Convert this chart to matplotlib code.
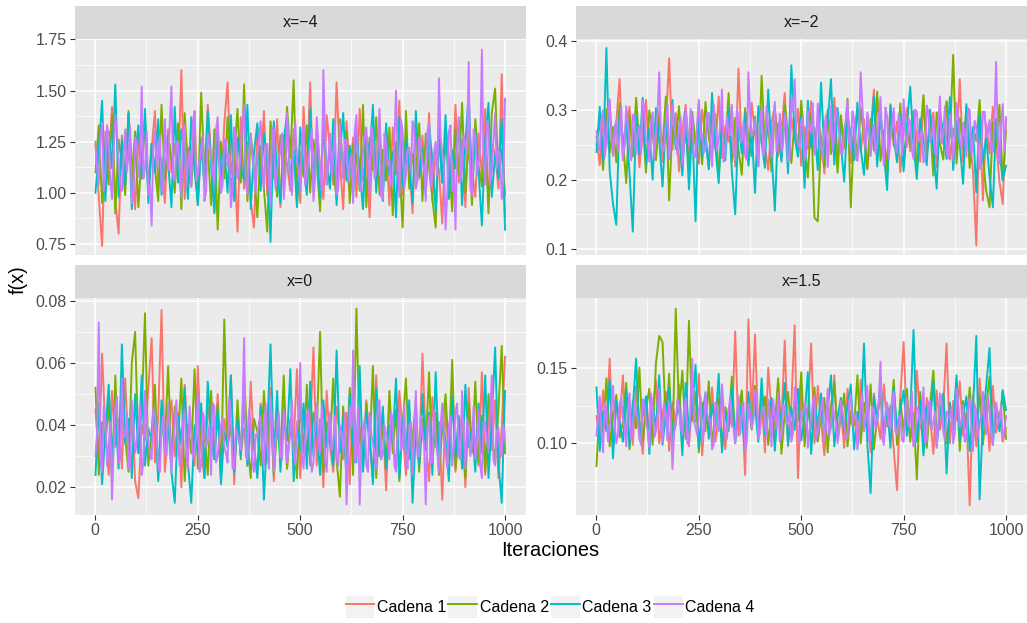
import matplotlib.pyplot as plt
import numpy as np
from matplotlib.lines import Line2D
from matplotlib.patches import Patch

plt.rcParams['font.family'] = ['Liberation Sans', 'DejaVu Sans']

panels = ["x=\u22124", "x=\u22122", "x=0", "x=1.5"]
chains = ["Cadena 1", "Cadena 2", "Cadena 3", "Cadena 4"]
colors = ["#F8766D", "#7CAE00", "#00BFC4", "#C77CFF"]

# each chain at 125 evenly spaced iterations
iters = np.linspace(1, 1000, 125)
# Cadena 4 (drawn on top) also read between those points
iters_fine = np.linspace(1, 1000, 249)

# x = -4  (units of 0.01)
xm4_c1 = [125, 98, 74, 130, 112, 142, 96, 80, 128, 104, 138, 115, 92, 126, 108, 135, 99, 121, 140, 103, 117, 95, 131, 110, 124,
          106, 160, 97, 122, 113, 139, 94, 127, 105, 143, 118, 91, 129, 100, 134, 154, 109, 120, 81, 137, 102, 125, 96, 83, 132,
          111, 140, 99, 123, 107, 136, 93, 128, 114, 101, 131, 119, 95, 142, 108, 154, 100, 133, 112, 97, 138, 121, 104, 154, 116,
          92, 135, 110, 127, 98, 141, 106, 119, 88, 130, 113, 137, 101, 124, 94, 132, 109, 145, 99, 122, 115, 90, 134, 107, 128,
          103, 139, 96, 120, 111, 85, 133, 118, 100, 143, 105, 126, 93, 137, 112, 98, 129, 108, 141, 95, 124, 119, 102, 158, 88]
xm4_c2 = [110, 133, 95, 121, 104, 138, 90, 126, 115, 99, 140, 108, 130, 93, 119, 136, 101, 124, 112, 96, 143, 106, 128, 117, 100,
          134, 92, 139, 113, 103, 127, 97, 149, 110, 122, 94, 131, 82, 125, 107, 137, 99, 118, 141, 105, 153, 96, 129, 111, 88,
          123, 102, 81, 135, 114, 98, 128, 106, 142, 117, 155, 94, 120, 108, 133, 100, 126, 115, 91, 139, 104, 122, 112, 97, 136,
          109, 130, 95, 124, 118, 101, 143, 93, 127, 111, 137, 99, 121, 106, 132, 89, 125, 114, 83, 140, 102, 119, 108, 134, 96,
          129, 112, 97, 83, 138, 105, 123, 116, 91, 131, 109, 144, 100, 126, 94, 136, 113, 103, 128, 90, 139, 151, 107, 121, 99]
xm4_c3 = [100, 121, 145, 96, 130, 112, 153, 98, 126, 104, 139, 92, 118, 133, 107, 141, 95, 124, 110, 136, 99, 128, 115, 93, 142,
          105, 131, 119, 97, 137, 111, 94, 125, 103, 140, 114, 90, 132, 108, 122, 100, 138, 96, 127, 113, 106, 143, 92, 120, 134,
          101, 129, 117, 76, 135, 109, 95, 126, 138, 104, 121, 93, 132, 112, 99, 141, 107, 124, 97, 130, 115, 102, 136, 94, 119,
          139, 106, 123, 98, 131, 111, 92, 128, 117, 143, 100, 125, 96, 134, 109, 120, 88, 137, 103, 126, 114, 95, 140, 108, 122,
          99, 133, 116, 91, 127, 105, 138, 97, 121, 112, 135, 94, 124, 149, 101, 130, 110, 84, 126, 144, 98, 119, 107, 136, 82]
xm4_c4 = [123, 104, 134, 110, 128, 97, 138, 115, 101, 131, 119, 95, 127, 108, 152, 112, 99, 84, 130, 117, 102, 136, 111, 152, 106,
          125, 98, 133, 114, 103, 140, 109, 121, 96, 129, 118, 105, 137, 100, 126, 113, 93, 132, 107, 122, 143, 99, 128, 111, 117,
          135, 102, 124, 94, 131, 110, 120, 97, 139, 106, 127, 115, 101, 133, 108, 123, 96, 137, 112, 160, 104, 129, 118, 99, 134,
          107, 126, 114, 95, 138, 103, 121, 132, 100, 128, 111, 141, 97, 124, 116, 105, 150, 98, 130, 109, 122, 135, 102, 127, 113,
          96, 134, 108, 125, 156, 119, 82, 130, 101, 82, 137, 112, 123, 164, 99, 128, 115, 170, 104, 131, 110, 139, 121, 97, 146]
xm4_c4_mid = [112, 127, 101, 133, 106, 121, 129, 103, 118, 110, 132, 99, 124, 115, 107, 130, 104, 122, 113, 128, 100, 119, 134, 108, 125,
              111, 130, 103, 120, 135, 106, 116, 128, 101, 123, 109, 131, 114, 104, 126, 119, 102, 129, 110, 133, 105, 121, 117, 100, 127,
              113, 124, 106, 132, 102, 118, 129, 108, 121, 99, 134, 112, 126, 104, 117, 131, 107, 123, 101, 128, 115, 109, 133, 103, 120,
              126, 105, 119, 130, 111, 101, 127, 116, 132, 107, 122, 98, 129, 113, 104, 125, 118, 136, 102, 121, 110, 131, 106, 124, 114,
              130, 103, 120, 108, 127, 116, 100, 133, 111, 124, 105, 128, 119, 102, 131, 109, 122, 114, 135, 104, 126, 112, 118, 107]

# x = -2  (units of 0.001)
xm2_c1 = [262, 221, 298, 247, 310, 235, 283, 345, 228, 274, 305, 240, 292, 218, 268, 315, 233, 286, 251, 300, 226, 279, 375, 243, 296,
          212, 270, 308, 238, 289, 257, 223, 301, 264, 216, 293, 246, 320, 231, 277, 255, 304, 219, 360, 242, 285, 229, 311, 266, 236,
          297, 249, 214, 282, 307, 234, 271, 325, 227, 290, 258, 302, 220, 276, 244, 313, 237, 288, 263, 209, 295, 252, 318, 230, 280,
          245, 306, 224, 273, 299, 239, 287, 215, 268, 330, 232, 294, 256, 222, 309, 248, 284, 211, 272, 303, 241, 291, 260, 226, 316,
          235, 278, 297, 218, 286, 251, 312, 229, 274, 243, 345, 225, 292, 259, 213, 105, 300, 170, 281, 238, 305, 254, 198, 165, 286]
xm2_c2 = [250, 287, 214, 302, 239, 276, 225, 311, 258, 195, 293, 233, 318, 247, 282, 210, 300, 265, 228, 290, 244, 320, 170, 279, 254,
          306, 231, 269, 215, 298, 248, 285, 222, 312, 260, 236, 294, 205, 277, 251, 325, 226, 289, 243, 207, 303, 263, 234, 291, 219,
          350, 246, 281, 212, 299, 257, 232, 308, 268, 224, 286, 240, 314, 253, 203, 295, 145, 140, 262, 219, 301, 237, 284, 210, 293,
          249, 317, 160, 275, 230, 304, 259, 216, 288, 242, 327, 227, 271, 208, 296, 255, 235, 310, 220, 282, 247, 299, 213, 266, 322,
          238, 280, 206, 297, 252, 229, 313, 261, 380, 223, 289, 244, 304, 217, 275, 256, 315, 232, 184, 160, 283, 246, 308, 199, 270]
xm2_c3 = [240, 305, 226, 390, 213, 165, 135, 297, 248, 282, 209, 125, 291, 236, 318, 222, 273, 200, 303, 257, 190, 286, 230, 315, 244,
          268, 206, 299, 186, 278, 140, 310, 234, 262, 215, 325, 247, 195, 289, 228, 302, 211, 150, 284, 238, 296, 220, 271, 181, 306,
          253, 217, 330, 242, 155, 281, 226, 298, 209, 365, 261, 233, 292, 188, 314, 246, 275, 214, 340, 237, 283, 345, 222, 303, 251,
          197, 290, 266, 228, 311, 245, 207, 286, 255, 320, 219, 296, 239, 185, 307, 263, 225, 293, 212, 279, 334, 248, 201, 288, 258,
          221, 301, 243, 187, 296, 269, 230, 319, 214, 285, 250, 194, 309, 237, 276, 182, 295, 226, 262, 204, 160, 288, 241, 199, 220]
xm2_c4 = [270, 242, 300, 256, 316, 234, 285, 262, 229, 306, 248, 293, 237, 278, 314, 253, 226, 297, 268, 355, 241, 283, 230, 309, 259,
          276, 222, 302, 250, 288, 233, 315, 265, 244, 296, 219, 281, 257, 330, 239, 270, 308, 228, 292, 254, 235, 355, 263, 287, 220,
          303, 246, 279, 232, 312, 258, 240, 295, 226, 318, 345, 251, 284, 229, 299, 267, 236, 310, 249, 275, 218, 306, 260, 290, 238,
          272, 314, 243, 286, 227, 355, 264, 297, 234, 280, 252, 319, 221, 291, 258, 303, 239, 276, 316, 247, 283, 230, 298, 261, 225,
          307, 254, 289, 236, 320, 266, 241, 294, 228, 311, 257, 282, 233, 300, 249, 274, 215, 298, 261, 286, 240, 370, 223, 309, 290]
xm2_c4_mid = [251, 287, 233, 299, 262, 276, 240, 305, 248, 281, 228, 294, 269, 237, 303, 255, 284, 231, 297, 266, 244, 309, 258, 275, 236,
              290, 247, 271, 302, 232, 285, 260, 239, 296, 252, 308, 243, 279, 226, 292, 264, 238, 301, 256, 283, 229, 298, 270, 245, 287,
              234, 306, 261, 277, 241, 295, 253, 282, 230, 300, 267, 246, 289, 235, 274, 310, 250, 263, 227, 293, 259, 242, 304, 268, 237,
              286, 254, 299, 232, 273, 307, 245, 280, 262, 238, 291, 257, 304, 230, 278, 249, 295, 236, 265, 288, 243, 301, 255, 272, 228,
              297, 264, 240, 283, 253, 306, 231, 276, 259, 292, 244, 270, 303, 236, 285, 251, 233, 298, 267, 247, 289, 258, 279, 242]

# x = 0  (units of 0.0001)
x0_c1 = [450, 290, 630, 380, 240, 510, 330, 420, 260, 550, 310, 470, 220, 165, 400, 350, 520, 680, 280, 430, 770, 250, 390, 480, 300,
         440, 200, 530, 340, 410, 270, 590, 320, 230, 460, 380, 290, 500, 250, 420, 350, 560, 210, 440, 310, 390, 270, 540, 330, 240,
         470, 360, 280, 520, 220, 430, 310, 490, 260, 400, 340, 580, 230, 450, 300, 380, 650, 270, 420, 200, 510, 330, 250, 460, 360,
         290, 440, 210, 530, 320, 390, 260, 480, 350, 230, 560, 300, 420, 190, 470, 340, 270, 510, 380, 240, 450, 310, 400, 280, 630,
         350, 220, 490, 330, 410, 160, 460, 290, 540, 250, 380, 430, 200, 520, 310, 360, 270, 570, 240, 440, 320, 480, 230, 390, 620]
x0_c2 = [520, 240, 410, 330, 480, 210, 560, 290, 430, 360, 250, 600, 700, 310, 450, 760, 270, 380, 530, 230, 420, 340, 590, 280, 460,
         350, 550, 220, 400, 310, 580, 260, 440, 370, 240, 510, 300, 470, 220, 740, 330, 400, 250, 480, 290, 560, 350, 230, 420, 380,
         270, 510, 330, 450, 240, 400, 300, 560, 260, 420, 350, 230, 480, 310, 530, 270, 440, 380, 700, 250, 410, 340, 550, 290, 170,
         460, 300, 520, 240, 775, 350, 280, 470, 320, 590, 230, 430, 370, 260, 510, 310, 450, 220, 400, 550, 290, 360, 480, 250, 420,
         330, 570, 270, 440, 240, 390, 500, 300, 610, 260, 410, 350, 230, 470, 320, 540, 280, 430, 250, 500, 360, 290, 450, 655, 310]
x0_c3 = [240, 470, 210, 380, 530, 300, 440, 260, 660, 340, 420, 230, 500, 310, 560, 270, 390, 350, 450, 220, 480, 320, 410, 250, 150,
         430, 340, 520, 280, 150, 400, 310, 470, 230, 540, 360, 290, 450, 210, 380, 330, 560, 250, 420, 300, 490, 270, 400, 340, 230,
         460, 160, 380, 660, 290, 510, 250, 430, 350, 580, 220, 400, 320, 470, 260, 540, 300, 410, 240, 480, 330, 390, 270, 640, 310,
         420, 230, 500, 340, 280, 590, 250, 440, 370, 210, 520, 300, 460, 260, 400, 350, 550, 230, 420, 310, 480, 150, 380, 270, 500,
         320, 440, 240, 570, 290, 410, 350, 220, 490, 300, 430, 260, 530, 330, 390, 250, 470, 310, 560, 230, 420, 650, 280, 150, 510]
x0_c4 = [300, 730, 250, 420, 330, 160, 460, 280, 550, 360, 260, 480, 310, 400, 240, 510, 350, 290, 440, 270, 390, 320, 470, 250, 410,
         340, 290, 450, 260, 380, 310, 500, 270, 420, 350, 240, 460, 300, 400, 330, 280, 440, 260, 370, 320, 680, 290, 410, 250, 360,
         430, 270, 340, 490, 250, 390, 300, 450, 280, 370, 320, 410, 600, 260, 430, 330, 280, 470, 310, 380, 250, 440, 350, 290, 400,
         320, 145, 460, 640, 300, 145, 390, 270, 440, 340, 260, 480, 310, 370, 290, 420, 250, 450, 330, 280, 400, 240, 510, 300, 370,
         145, 430, 280, 360, 250, 470, 320, 400, 270, 440, 300, 510, 260, 380, 340, 290, 450, 230, 410, 320, 560, 270, 390, 300, 350]
x0_c4_mid = [380, 300, 460, 270, 410, 330, 490, 290, 370, 440, 260, 400, 350, 470, 280, 420, 310, 450, 360, 250, 430, 300, 390, 340, 480,
             270, 410, 320, 460, 290, 380, 250, 440, 330, 400, 470, 280, 360, 420, 310, 490, 260, 390, 350, 430, 300, 450, 280, 370, 410,
             320, 470, 260, 400, 350, 440, 290, 380, 330, 480, 270, 420, 310, 360, 450, 250, 410, 340, 460, 290, 390, 320, 430, 270, 370,
             440, 300, 390, 280, 460, 340, 420, 250, 370, 310, 480, 290, 400, 350, 440, 270, 380, 320, 470, 260, 410, 360, 300, 430, 340,
             390, 280, 450, 310, 400, 360, 260, 430, 330, 470, 290, 380, 420, 300, 460, 340, 270, 410, 350, 440, 290, 380, 320, 400]

# x = 1.5  (units of 0.001)
x15_c1 = [118, 102, 135, 110, 156, 97, 128, 113, 145, 104, 124, 99, 138, 116, 93, 131, 108, 122, 142, 100, 119, 134, 95, 127, 112,
          139, 103, 121, 98, 130, 114, 146, 92, 125, 109, 137, 101, 118, 133, 96, 123, 111, 174, 105, 129, 79, 182, 117, 172, 107,
          131, 94, 150, 120, 102, 140, 112, 168, 98, 126, 178, 77, 134, 106, 121, 166, 100, 138, 115, 92, 129, 110, 145, 104, 123,
          97, 136, 113, 119, 101, 142, 108, 127, 94, 133, 116, 103, 139, 111, 125, 96, 69, 131, 167, 107, 122, 99, 148, 114, 102,
          130, 118, 93, 135, 109, 124, 166, 100, 128, 115, 141, 105, 120, 59, 132, 98, 143, 112, 126, 95, 138, 107, 121, 101, 110]
x15_c2 = [85, 126, 107, 143, 98, 119, 132, 104, 114, 140, 96, 128, 110, 150, 101, 123, 136, 99, 153, 171, 167, 112, 146, 97, 189,
          120, 148, 103, 181, 115, 134, 94, 127, 108, 141, 100, 118, 130, 97, 124, 113, 144, 102, 121, 135, 95, 126, 109, 138, 104,
          117, 131, 99, 125, 111, 143, 93, 120, 134, 106, 128, 115, 147, 98, 122, 110, 137, 101, 119, 130, 94, 125, 140, 105, 116,
          133, 98, 121, 112, 145, 100, 127, 108, 139, 96, 118, 131, 103, 124, 114, 142, 99, 129, 107, 136, 101, 120, 76, 134, 111,
          97, 126, 148, 105, 119, 132, 100, 123, 113, 140, 95, 128, 109, 137, 102, 118, 131, 99, 124, 144, 106, 120, 112, 135, 103]
x15_c3 = [137, 95, 121, 108, 142, 90, 128, 114, 101, 135, 98, 123, 156, 104, 118, 131, 93, 126, 110, 145, 99, 120, 137, 102, 115,
          128, 92, 140, 107, 123, 152, 97, 119, 133, 103, 126, 111, 146, 94, 121, 108, 138, 100, 129, 116, 96, 134, 112, 125, 101,
          143, 106, 120, 130, 95, 127, 113, 140, 99, 124, 109, 136, 102, 118, 147, 93, 128, 111, 133, 104, 122, 145, 98, 117, 130,
          107, 125, 139, 96, 121, 112, 166, 100, 67, 131, 115, 143, 103, 126, 97, 137, 110, 122, 135, 105, 119, 175, 101, 128, 92,
          124, 113, 141, 98, 120, 133, 80, 127, 109, 145, 102, 118, 131, 95, 123, 171, 63, 116, 138, 163, 99, 126, 108, 135, 122]
x15_c4 = [105, 131, 94, 122, 112, 138, 100, 126, 116, 98, 133, 109, 121, 103, 129, 114, 97, 125, 108, 136, 101, 119, 127, 83, 113,
          124, 106, 130, 99, 156, 111, 120, 102, 134, 115, 96, 127, 108, 139, 104, 122, 113, 100, 131, 117, 95, 126, 110, 135, 103,
          121, 112, 129, 98, 118, 133, 105, 124, 114, 101, 137, 109, 120, 126, 97, 115, 131, 107, 123, 102, 136, 111, 119, 100, 128,
          113, 104, 132, 118, 96, 125, 109, 138, 103, 121, 115, 154, 99, 127, 110, 134, 106, 119, 101, 130, 116, 98, 124, 112, 137,
          102, 128, 114, 97, 133, 108, 121, 117, 100, 136, 111, 125, 104, 130, 95, 119, 113, 134, 106, 122, 99, 127, 115, 103, 118]
x15_c4_mid = [118, 108, 127, 101, 124, 113, 106, 130, 110, 121, 103, 128, 115, 99, 125, 109, 133, 104, 119, 112, 126, 102, 117, 107, 129,
              111, 122, 100, 128, 114, 105, 131, 108, 120, 116, 99, 126, 112, 123, 103, 130, 110, 119, 106, 127, 101, 121, 115, 132, 107,
              124, 104, 117, 129, 110, 101, 126, 113, 120, 107, 131, 100, 118, 123, 109, 127, 102, 116, 130, 111, 105, 125, 114, 108, 121,
              103, 128, 112, 119, 106, 133, 115, 101, 124, 110, 127, 104, 120, 113, 129, 108, 117, 102, 125, 111, 134, 105, 122, 116, 100,
              127, 109, 121, 113, 130, 102, 118, 124, 107, 128, 114, 101, 123, 110, 126, 104, 119, 115, 131, 106, 120, 112, 125, 108]

data = [[xm4_c1, xm4_c2, xm4_c3, xm4_c4],
        [xm2_c1, xm2_c2, xm2_c3, xm2_c4],
        [x0_c1, x0_c2, x0_c3, x0_c4],
        [x15_c1, x15_c2, x15_c3, x15_c4]]
mids = [xm4_c4_mid, xm2_c4_mid, x0_c4_mid, x15_c4_mid]
units = [0.01, 0.001, 0.0001, 0.001]

ylims = [(0.696, 1.752), (0.0913, 0.4029), (0.0111, 0.0809), (0.0526, 0.1961)]
yticks = [[0.75, 1.00, 1.25, 1.50, 1.75], [0.1, 0.2, 0.3, 0.4], [0.02, 0.04, 0.06, 0.08], [0.10, 0.15]]
yminor = [[0.875, 1.125, 1.375, 1.625], [0.15, 0.25, 0.35], [0.03, 0.05, 0.07], [0.075, 0.125, 0.175]]
yfmt = ["%.2f", "%.1f", "%.2f", "%.2f"]
xticks = [0, 250, 500, 750, 1000]
xminor = [125, 375, 625, 875]

W, H = 1027, 623
fig = plt.figure(figsize=(W / 100, H / 100), dpi=100)

# panel boxes in pixels: left, top, right, bottom
boxes = [(75, 39, 525.5, 255), (576, 39, 1026.5, 255),
         (75, 298, 525.5, 515), (576, 298, 1026.5, 515)]
strip_h = 33

for p in range(4):
    l, t, r, b = boxes[p]
    ax = fig.add_axes([l / W, 1 - b / H, (r - l) / W, (b - t) / H])
    ax.set_facecolor("#EBEBEB")
    for s in ax.spines.values():
        s.set_visible(False)
    for c in range(4):
        if c == 3:
            y = np.empty(249)
            y[0::2] = data[p][c]
            y[1::2] = mids[p]
            ax.plot(iters_fine, y * units[p], color=colors[c], lw=1.4)
        else:
            y = np.array(data[p][c]) * units[p]
            ax.plot(iters, y, color=colors[c], lw=1.4)
    ax.set_xlim(-48.95, 1049.95)
    ax.set_ylim(*ylims[p])
    ax.set_xticks(xticks)
    ax.set_xticks(xminor, minor=True)
    ax.set_yticks(yticks[p])
    ax.set_yticks(yminor[p], minor=True)
    ax.set_yticklabels([yfmt[p] % v for v in yticks[p]])
    ax.grid(True, which="major", color="white", lw=1.1)
    ax.grid(True, which="minor", color="white", lw=0.55)
    ax.set_axisbelow(True)
    ax.tick_params(which="minor", length=0)
    ax.tick_params(axis="y", length=3.6, width=0.8, color="#333333",
                   labelcolor="#4D4D4D", labelsize=11.5, pad=2.5)
    if p >= 2:
        ax.tick_params(axis="x", length=3.6, width=0.8, color="#333333",
                       labelcolor="#4D4D4D", labelsize=11.5, pad=2.5)
        ax.set_xticklabels([str(v) for v in xticks])
    else:
        ax.tick_params(axis="x", length=0, labelbottom=False)

    sax = fig.add_axes([l / W, 1 - t / H, (r - l) / W, strip_h / H])
    sax.set_facecolor("#D9D9D9")
    sax.set_xticks([])
    sax.set_yticks([])
    for s in sax.spines.values():
        s.set_visible(False)
    sax.text(0.5, 0.5, panels[p], ha="center", va="center",
             fontsize=11.5, color="#1A1A1A", transform=sax.transAxes)

fig.text(550 / W, 1 - 551 / H, "Iteraciones", ha="center", va="center", fontsize=14.4)
fig.text(18 / W, 1 - 280 / H, "f(x)", ha="center", va="center", rotation=90, fontsize=14.4)

handles = [(Patch(facecolor="#F2F2F2", edgecolor="none"), Line2D([], [], color=c, lw=1.4))
           for c in colors]
fig.legend(handles, chains, loc="center", bbox_to_anchor=(550 / W, 1 - 607 / H),
           ncol=4, frameon=False, fontsize=11.5, handlelength=1.8, handleheight=1.75,
           handletextpad=0.15, columnspacing=0.15, borderpad=0)

fig.savefig("out.png", dpi=100)
